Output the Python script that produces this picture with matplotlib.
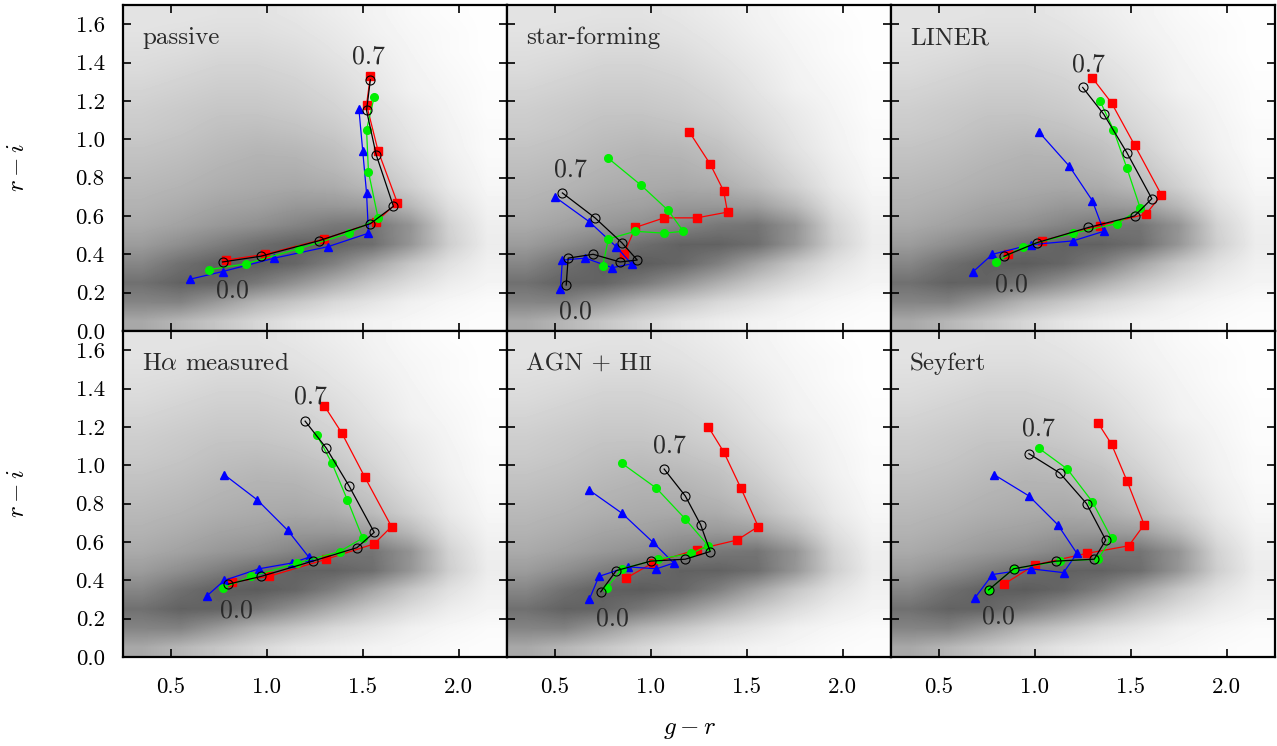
import numpy as np
import matplotlib.pyplot as plt

plt.rcParams['font.family'] = 'cmr10'
plt.rcParams['mathtext.fontset'] = 'cm'
plt.rcParams['axes.formatter.use_mathtext'] = True

# colour tracks, z = 0.0 ... 0.7 in steps of 0.1
# order of tracks in each list: blue, green, black, red
passive_gr = [[0.60, 0.77, 1.04, 1.32, 1.53, 1.52, 1.50, 1.48],
              [0.70, 0.89, 1.17, 1.43, 1.58, 1.53, 1.52, 1.56],
              [0.77, 0.97, 1.27, 1.54, 1.66, 1.57, 1.52, 1.54],
              [0.79, 0.99, 1.30, 1.57, 1.68, 1.58, 1.52, 1.54]]
passive_ri = [[0.27, 0.31, 0.38, 0.44, 0.51, 0.72, 0.94, 1.16],
              [0.32, 0.35, 0.43, 0.51, 0.59, 0.83, 1.05, 1.22],
              [0.36, 0.39, 0.47, 0.56, 0.65, 0.92, 1.15, 1.31],
              [0.37, 0.40, 0.48, 0.57, 0.67, 0.94, 1.18, 1.33]]

starforming_gr = [[0.53, 0.54, 0.66, 0.80, 0.90, 0.82, 0.68, 0.50],
                  [0.75, 0.78, 0.92, 1.07, 1.17, 1.09, 0.95, 0.78],
                  [0.56, 0.57, 0.70, 0.84, 0.93, 0.85, 0.71, 0.54],
                  [0.86, 0.92, 1.07, 1.24, 1.40, 1.38, 1.31, 1.20]]
starforming_ri = [[0.22, 0.37, 0.38, 0.33, 0.35, 0.44, 0.57, 0.70],
                  [0.34, 0.48, 0.52, 0.51, 0.52, 0.63, 0.76, 0.90],
                  [0.24, 0.38, 0.40, 0.36, 0.37, 0.46, 0.59, 0.72],
                  [0.40, 0.54, 0.59, 0.59, 0.62, 0.73, 0.87, 1.04]]

liner_gr = [[0.68, 0.78, 0.98, 1.20, 1.36, 1.30, 1.18, 1.02],
            [0.80, 0.94, 1.20, 1.43, 1.55, 1.48, 1.41, 1.34],
            [0.84, 1.01, 1.28, 1.52, 1.61, 1.48, 1.36, 1.25],
            [0.86, 1.04, 1.34, 1.58, 1.66, 1.52, 1.40, 1.30]]
liner_ri = [[0.31, 0.40, 0.45, 0.47, 0.52, 0.68, 0.86, 1.04],
            [0.36, 0.44, 0.51, 0.56, 0.64, 0.85, 1.05, 1.20],
            [0.39, 0.46, 0.54, 0.60, 0.69, 0.93, 1.13, 1.27],
            [0.40, 0.47, 0.55, 0.61, 0.71, 0.97, 1.19, 1.32]]

halpha_gr = [[0.69, 0.78, 0.96, 1.13, 1.22, 1.11, 0.95, 0.78],
             [0.77, 0.92, 1.16, 1.38, 1.50, 1.42, 1.34, 1.26],
             [0.80, 0.97, 1.24, 1.47, 1.56, 1.43, 1.31, 1.20],
             [0.82, 1.01, 1.31, 1.56, 1.65, 1.51, 1.39, 1.30]]
halpha_ri = [[0.32, 0.40, 0.46, 0.49, 0.52, 0.66, 0.82, 0.95],
             [0.36, 0.42, 0.49, 0.55, 0.62, 0.82, 1.01, 1.16],
             [0.38, 0.42, 0.50, 0.57, 0.65, 0.89, 1.09, 1.23],
             [0.39, 0.42, 0.51, 0.59, 0.68, 0.94, 1.17, 1.31]]

agnhii_gr = [[0.68, 0.73, 0.88, 1.03, 1.12, 1.01, 0.85, 0.68],
             [0.77, 0.85, 1.04, 1.21, 1.30, 1.18, 1.03, 0.85],
             [0.74, 0.82, 1.00, 1.18, 1.31, 1.26, 1.18, 1.07],
             [0.87, 1.01, 1.24, 1.45, 1.56, 1.47, 1.38, 1.30]]
agnhii_ri = [[0.30, 0.42, 0.47, 0.46, 0.49, 0.60, 0.75, 0.87],
             [0.36, 0.46, 0.51, 0.54, 0.58, 0.72, 0.88, 1.01],
             [0.34, 0.45, 0.50, 0.51, 0.55, 0.69, 0.84, 0.98],
             [0.41, 0.49, 0.56, 0.61, 0.68, 0.88, 1.07, 1.20]]

seyfert_gr = [[0.69, 0.78, 0.98, 1.15, 1.22, 1.12, 0.97, 0.79],
              [0.76, 0.89, 1.13, 1.33, 1.40, 1.30, 1.17, 1.02],
              [0.76, 0.89, 1.11, 1.31, 1.37, 1.27, 1.13, 0.97],
              [0.84, 1.00, 1.27, 1.49, 1.57, 1.48, 1.40, 1.33]]
seyfert_ri = [[0.31, 0.43, 0.46, 0.44, 0.54, 0.69, 0.84, 0.95],
              [0.35, 0.46, 0.50, 0.51, 0.62, 0.81, 0.98, 1.09],
              [0.35, 0.46, 0.50, 0.51, 0.61, 0.80, 0.96, 1.06],
              [0.38, 0.48, 0.54, 0.58, 0.69, 0.92, 1.11, 1.22]]

# grey level of the full-sample density, rows from r-i = 1.65 down to 0.05,
# columns g-r = 0.35 ... 2.15
bg_level = [
    [228, 228, 226, 226, 230, 236, 242, 248, 252, 254],
    [226, 224, 222, 222, 226, 232, 240, 246, 250, 254],
    [222, 220, 216, 216, 220, 228, 236, 244, 250, 254],
    [218, 214, 210, 210, 214, 222, 232, 242, 248, 253],
    [212, 208, 204, 204, 208, 216, 228, 240, 246, 252],
    [206, 202, 198, 198, 202, 210, 222, 234, 244, 252],
    [202, 198, 192, 190, 194, 202, 216, 230, 242, 250],
    [196, 192, 186, 182, 184, 192, 208, 226, 240, 250],
    [190, 186, 180, 176, 176, 184, 198, 218, 236, 248],
    [184, 180, 174, 170, 168, 172, 186, 208, 232, 246],
    [178, 172, 164, 160, 152, 152, 158, 184, 222, 242],
    [170, 162, 152, 144, 132, 120, 116, 148, 210, 238],
    [156, 142, 126, 110, 98, 98, 110, 150, 206, 236],
    [134, 112, 96, 92, 102, 128, 164, 198, 224, 240],
    [112, 98, 100, 120, 146, 174, 200, 220, 236, 244],
    [132, 130, 154, 180, 198, 216, 228, 240, 246, 250],
    [168, 182, 198, 214, 228, 236, 242, 246, 250, 252],
]

panels = [
    ("passive", passive_gr, passive_ri, (1.53, 1.43), (0.82, 0.21)),
    ("star-forming", starforming_gr, starforming_ri, (0.58, 0.84), (0.61, 0.10)),
    ("LINER", liner_gr, liner_ri, (1.28, 1.39), (0.88, 0.24)),
    (r"H$\alpha$ measured", halpha_gr, halpha_ri, (1.23, 1.36), (0.84, 0.24)),
    ("AGN + H", agnhii_gr, agnhii_ri, (1.10, 1.10), (0.80, 0.20)),
    ("Seyfert", seyfert_gr, seyfert_ri, (1.02, 1.19), (0.81, 0.21)),
]

styles = [
    dict(color='b', marker='^', ms=5.5, zorder=3),
    dict(color='#00ee00', marker='o', ms=5.5, zorder=4),
    dict(color='k', marker='o', ms=6.5, mfc='none', mew=0.8, zorder=5),
    dict(color='r', marker='s', ms=6, zorder=2),
]

W, H = 1277, 746
fig = plt.figure(figsize=(W / 100, H / 100), dpi=100)

x0s = [122.7, 506.7, 890.7]
ytops = [5, 331]
bg = np.array(bg_level) / 255.0

for k, (name, gr, ri, pos07, pos00) in enumerate(panels):
    row, col = divmod(k, 3)
    ax = fig.add_axes([x0s[col] / W, (H - ytops[row] - 326) / H, 384 / W, 326 / H])
    ax.imshow(bg, cmap='gray', vmin=0, vmax=1, extent=[0.25, 2.25, 0, 1.7],
              origin='upper', interpolation='bilinear', aspect='auto', zorder=0)
    for xs, ys, st in zip(gr, ri, styles):
        ax.plot(xs, ys, lw=0.9, **st)

    ax.text(pos07[0], pos07[1], "0.7", fontsize=18.5, color='#2a2a2a', ha='center', va='center')
    ax.text(pos00[0], pos00[1], "0.0", fontsize=18.5, color='#2a2a2a', ha='center', va='center')
    t = ax.text(0.05, 0.88, name, transform=ax.transAxes, fontsize=18, color='#2a2a2a', va='baseline')
    if name == "AGN + H":
        # small-caps roman numeral
        ax.annotate("II", xy=(1, 0), xycoords=t, xytext=(0.5, 3.5), textcoords='offset points',
                    fontsize=13.5, color='#2a2a2a', va='baseline')

    ax.set_xlim(0.25, 2.25)
    ax.set_ylim(0, 1.7)
    ax.set_xticks([0.5, 1.0, 1.5, 2.0])
    ax.set_yticks(np.arange(0, 1.61, 0.2))
    ax.set_xticklabels(["0.5", "1.0", "1.5", "2.0"])
    ax.set_yticklabels(["%.1f" % v for v in np.arange(0, 1.61, 0.2)])
    ax.tick_params(direction='in', top=True, right=True, length=6, width=1.2,
                   labelsize=16.5)
    ax.tick_params(axis='x', pad=15)
    ax.tick_params(axis='y', pad=13)
    for sp in ax.spines.values():
        sp.set_linewidth(1.6)
    if row == 0:
        ax.tick_params(labelbottom=False)
    if col > 0:
        ax.tick_params(labelleft=False)
    else:
        ax.set_ylabel(r"$r-i$", fontsize=18)
        ax.yaxis.set_label_coords(-0.245, 0.5)

fig.text(690 / W, 1 - 730 / H, r"$g-r$", fontsize=18, ha='center', va='center')

fig.savefig("out.png", dpi=100)
